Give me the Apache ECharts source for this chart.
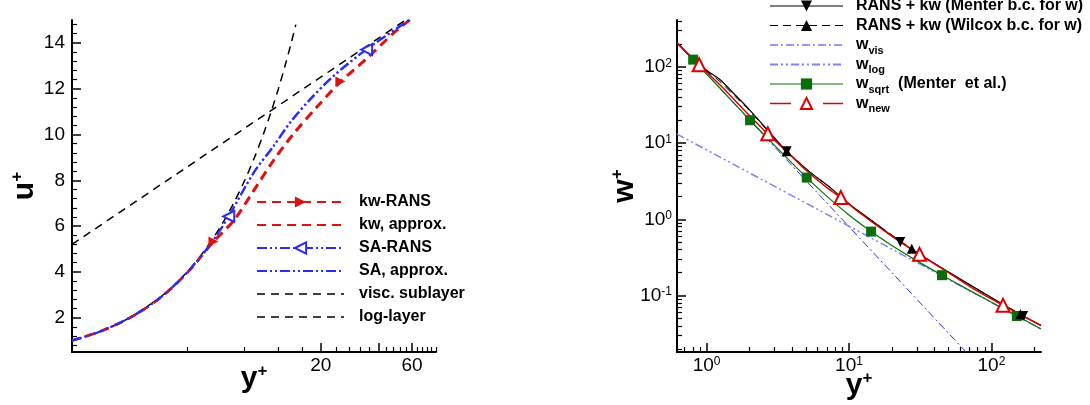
<!DOCTYPE html>
<html><head><meta charset="utf-8">
<script src="https://cdn.jsdelivr.net/npm/echarts@6/dist/echarts.min.js"></script>
<style>html,body{margin:0;padding:0;background:#fff}#c{width:1090px;height:405px}</style>
</head><body><div id="c"></div>
<script>
// ---------- LEFT PANEL DATA (u+ vs y+) ----------
const LX_MAJOR = [20, 40, 60];
const LX_MINOR = [4, 8, 12, 16, 24, 28, 32, 36, 44, 48, 52, 56, 64, 68, 72, 76, 80];
const LX_LABELS = [20, 60];
const LY_MAJOR = [2, 4, 6, 8, 10, 12, 14];
const LY_MINOR = [0.8, 1.2, 1.6, 2.4, 2.8, 3.2, 3.6, 4.4, 4.8, 5.2, 5.6, 6.4, 6.8, 7.2, 7.6,
  8.4, 8.8, 9.2, 9.6, 10.4, 10.8, 11.2, 11.6, 12.4, 12.8, 13.2, 13.6, 14.4, 14.8];

const kwRans = [[1,1.0],[1.4,1.39],[2,1.99],[2.7,2.68],[3.4,3.37],[4.2,4.15],[5.49,5.33],[7,6.25],[8.9,7.56],[11.3,8.88],[14.4,10.05],[19.1,11.22],[25.3,12.31],[34.9,13.34],[48,14.44],[58.3,15.0]];
const kwRansMarks = [5.49, 25.3];
const kwApprox = [[1,1.0],[1.4,1.39],[2,1.99],[2.7,2.68],[3.4,3.37],[4.2,4.15],[5.5,5.32],[7,6.22],[8.9,7.52],[11.3,8.84],[14.4,10.01],[19.1,11.19],[25.3,12.28],[34.9,13.32],[48,14.42],[58.3,15.0]];
const saRans = [[1,1.0],[1.4,1.39],[2,1.99],[2.7,2.68],[3.4,3.38],[4.2,4.17],[5.4,5.3],[6.6,6.42],[8.9,8.31],[11.3,9.47],[13.8,10.5],[17.6,11.52],[23.3,12.54],[34.7,13.71],[58.3,15.0]];
const saRansMarks = [6.6, 34.7];
const saApprox = [[1,1.0],[1.4,1.39],[2,1.99],[2.7,2.68],[3.4,3.38],[4.2,4.17],[5.4,5.31],[6.6,6.44],[8.9,8.34],[11.3,9.5],[13.8,10.53],[17.6,11.55],[23.3,12.57],[34.7,13.73],[58.3,15.02]];
const viscSub = [[1,1],[1.5,1.5],[2,2],[3,3],[4,4],[5,5],[6,6],[7,7],[8,8],[9,9],[10,10],[11,11],[12,12],[13,13],[14,14],[14.8,14.8]];
const logLayer = [[1,5.2],[60,15.19]];

// ---------- RIGHT PANEL DATA (w+ vs y+) ----------
const RX_MAJOR = [1, 10, 100];
const RX_MINOR = [0.7,0.8,0.9,2,3,4,5,6,7,8,9,20,30,40,50,60,70,80,90,200];
const RY_MAJOR = [0.1, 1, 10, 100];
const RY_MINOR = [0.02,0.03,0.04,0.05,0.06,0.07,0.08,0.09,0.2,0.3,0.4,0.5,0.6,0.7,0.8,0.9,
  2,3,4,5,6,7,8,9,20,30,40,50,60,70,80,90,200,300,400];

const menter = [[0.62,205],[0.8,128],[1,90],[1.24,68],[1.6,42],[1.91,30],[2.64,15.3],[3.65,7.8],[5.33,4.15],[7.36,2.62],[10.2,1.55],[14.8,0.93],[22.9,0.504],[43.7,0.237],[98.5,0.0955],[167,0.054],[223,0.0406]];
const menterMarks = [3.65, 22.9, 167];
const wilcox = [[0.62,205],[0.8,126],[1,88],[1.24,64],[1.6,40],[1.91,29],[2.64,15],[3.65,7.8],[5.33,4.15],[7.36,2.62],[10.2,1.55],[14.8,0.93],[27.6,0.41],[43.7,0.237],[98.5,0.0955],[160,0.057],[223,0.0406]];
const wilcoxMarks = [3.65, 27.6, 160];
const wVis = [[0.62,208],[66,0.0184]];
const wLog = [[0.62,13.1],[223,0.0365]];
const wSqrt = [[0.62,208],[0.805,124],[1,80.4],[1.5,36],[2.02,19.9],[3,9.3],[4,5.4],[5.05,3.52],[7,2.0],[10,1.14],[14.3,0.69],[20,0.453],[30,0.285],[45,0.185],[70,0.117],[100,0.0817],[151,0.054],[223,0.0365]];
const wSqrtMarks = [0.805, 2.02, 5.05, 14.3, 45, 151];
const wNew = [[0.62,208],[0.887,106],[1.24,58],[2,23],[2.69,13.2],[3.65,7.75],[5,4.4],[7,2.6],[8.76,1.93],[12,1.2],[20,0.6],[31.3,0.347],[50,0.2],[80,0.114],[120.7,0.0744],[223,0.0405]];
const wNewMarks = [0.887, 2.69, 8.76, 31.3, 120.7];

const leftNames = ['kw-RANS', 'kw, approx.', 'SA-RANS', 'SA, approx.', 'visc. sublayer', 'log-layer'];
const rightNames = ['RANS + kw (Menter b.c. for w)', 'RANS + kw (Wilcox b.c. for w)', 'w_vis', 'w_log', 'w_sqrt', 'w_new'];
const rightLabels = {
  'w_vis': 'w{sub|vis}', 'w_log': 'w{sub|log}', 'w_sqrt': 'w{sub|sqrt}  (Menter  et al.)', 'w_new': 'w{sub|new}'
};

function withMarks(pts, marks) {
  return pts.map(p => marks.indexOf(p[0]) >= 0 ? p : { value: p, symbol: 'none' });
}

const FONT = 'Liberation Sans, Arial, Helvetica, sans-serif';
const BLACK = '#000';

function tickAxis(kind, grid, type, min, max, vals, len, extra) {
  return Object.assign({
    type: type, gridIndex: grid, min: min, max: max,
    position: kind === 'x' ? 'bottom' : 'left',
    axisLine: { show: false },
    axisLabel: { show: false },
    splitLine: { show: false },
    axisTick: { show: true, inside: true, length: len, customValues: vals, lineStyle: { color: BLACK, width: 1.2 } },
    silent: true
  }, extra || {});
}

const supLabel = function (v) {
  const e = Math.round(Math.log10(v));
  return '{b|10}{s|' + e + '}';
};
const supRich = {
  b: { fontSize: 19, fontFamily: FONT, color: BLACK },
  s: { fontSize: 12, fontFamily: FONT, color: BLACK, verticalAlign: 'top', lineHeight: 12 }
};
const nameRich = {
  b: { fontSize: 30, fontWeight: 'bold', fontFamily: FONT, color: BLACK, lineHeight: 32 },
  s: { fontSize: 17, fontWeight: 'bold', fontFamily: FONT, color: BLACK, verticalAlign: 'top', lineHeight: 17 }
};

const chart = echarts.init(document.getElementById('c'), null, { renderer: 'canvas' });

const option = {
  animation: false,
  backgroundColor: '#fff',
  textStyle: { fontFamily: FONT },
  grid: [
    { left: 72, top: 20, width: 364, height: 332, outerBoundsMode: 'none', containLabel: false },
    { left: 677, top: 20, width: 364, height: 332, outerBoundsMode: 'none', containLabel: false }
  ],
  xAxis: [
    {
      type: 'log', gridIndex: 0, min: 1, max: 80, position: 'bottom',
      axisLine: { show: true, lineStyle: { color: BLACK, width: 2 } },
      axisTick: { show: true, inside: true, length: 9, customValues: LX_MAJOR, lineStyle: { color: BLACK, width: 1.5 } },
      axisLabel: { show: true, customValues: LX_LABELS, fontSize: 19, color: BLACK, fontFamily: FONT, margin: 4,
        formatter: v => String(Math.round(v)) },
      splitLine: { show: false },
      name: '{b|y}{s|+}', nameLocation: 'middle', nameGap: 11, nameMoveOverlap: false,
      nameTextStyle: { rich: nameRich }
    },
    tickAxis('x', 0, 'log', 1, 80, LX_MINOR, 5),
    {
      type: 'log', gridIndex: 1, min: 0.62, max: 223, position: 'bottom',
      axisLine: { show: true, lineStyle: { color: BLACK, width: 2 } },
      axisTick: { show: true, inside: true, length: 9, customValues: RX_MAJOR, lineStyle: { color: BLACK, width: 1.5 } },
      axisLabel: { show: true, customValues: RX_MAJOR, margin: 4, formatter: supLabel, rich: supRich },
      splitLine: { show: false },
      name: '{b|y}{s|+}', nameLocation: 'middle', nameGap: 18, nameMoveOverlap: false,
      nameTextStyle: { rich: nameRich }
    },
    tickAxis('x', 1, 'log', 0.62, 223, RX_MINOR, 5)
  ],
  yAxis: [
    {
      type: 'value', gridIndex: 0, min: 0.5, max: 15, position: 'left',
      axisLine: { show: true, lineStyle: { color: BLACK, width: 2 } },
      axisTick: { show: true, inside: true, length: 9, customValues: LY_MAJOR, lineStyle: { color: BLACK, width: 1.5 } },
      axisLabel: { show: true, customValues: LY_MAJOR, fontSize: 19, color: BLACK, fontFamily: FONT, margin: 7 },
      splitLine: { show: false },
      name: '{b|u}{s|+}', nameLocation: 'middle', nameGap: 31, nameMoveOverlap: false,
      nameTextStyle: { rich: nameRich }
    },
    tickAxis('y', 0, 'value', 0.5, 15, LY_MINOR, 5),
    {
      type: 'log', gridIndex: 1, min: 0.0182, max: 410, position: 'left',
      axisLine: { show: true, lineStyle: { color: BLACK, width: 2 } },
      axisTick: { show: true, inside: true, length: 9, customValues: RY_MAJOR, lineStyle: { color: BLACK, width: 1.5 } },
      axisLabel: { show: true, customValues: RY_MAJOR, margin: 5, formatter: supLabel, rich: supRich },
      splitLine: { show: false },
      name: '{b|w}{s|+}', nameLocation: 'middle', nameGap: 36, nameMoveOverlap: false,
      nameTextStyle: { rich: nameRich }
    },
    tickAxis('y', 1, 'log', 0.0182, 410, RY_MINOR, 5)
  ],
  legend: [
    {
      left: 256, top: 192, padding: 0, orient: 'vertical', itemWidth: 87, itemHeight: 14, itemGap: 3,
      selectedMode: false,
      textStyle: { fontSize: 16, fontWeight: 'bold', color: BLACK, fontFamily: FONT, lineHeight: 20, padding: [0, 0, 0, 10] },
      data: [
        { name: leftNames[0] },
        { name: leftNames[1], itemStyle: { opacity: 0 } },
        { name: leftNames[2] },
        { name: leftNames[3], itemStyle: { opacity: 0 } },
        { name: leftNames[4], itemStyle: { opacity: 0 }, lineStyle: { width: 1.5 } },
        { name: leftNames[5], itemStyle: { opacity: 0 }, lineStyle: { width: 1.5 } }
      ]
    },
    {
      left: 769, top: -5, padding: 0, orient: 'vertical', itemWidth: 73, itemHeight: 14, itemGap: -2.5,
      selectedMode: false,
      formatter: n => rightLabels[n] || n,
      textStyle: { fontSize: 16, fontWeight: 'bold', color: BLACK, fontFamily: FONT, lineHeight: 22, padding: [0, 0, 0, 8],
        rich: { sub: { fontSize: 11, fontWeight: 'bold', color: BLACK, fontFamily: FONT, lineHeight: 11, verticalAlign: 'bottom' } } },
      data: [
        { name: rightNames[0], lineStyle: { width: 1.2 } },
        { name: rightNames[1], lineStyle: { width: 1.2, type: [8, 5] } },
        { name: rightNames[2], itemStyle: { opacity: 0 }, lineStyle: { width: 1.2 } },
        { name: rightNames[3], itemStyle: { opacity: 0 }, lineStyle: { width: 2 } },
        { name: rightNames[4], lineStyle: { width: 1.2 } },
        { name: rightNames[5], lineStyle: { width: 1.5, type: [21, 32] } }
      ]
    }
  ],
  series: [
    // left panel
    { name: leftNames[4], type: 'line', xAxisIndex: 0, yAxisIndex: 0, data: viscSub, symbol: 'none', smooth: 0.3,
      lineStyle: { color: BLACK, width: 1.5, type: [8, 6] }, itemStyle: { color: BLACK } },
    { name: leftNames[5], type: 'line', xAxisIndex: 0, yAxisIndex: 0, data: logLayer, symbol: 'none',
      lineStyle: { color: BLACK, width: 1.5, type: [8, 6] }, itemStyle: { color: BLACK } },
    { name: leftNames[1], type: 'line', xAxisIndex: 0, yAxisIndex: 0, data: kwApprox, symbol: 'none', smooth: 0.3,
      lineStyle: { color: '#dd1111', width: 2.5, type: [9, 6] }, itemStyle: { color: '#dd1111' } },
    { name: leftNames[0], type: 'line', xAxisIndex: 0, yAxisIndex: 0, data: withMarks(kwRans, kwRansMarks),
      symbol: 'triangle', symbolRotate: -90, symbolSize: 10, smooth: 0.3,
      lineStyle: { color: '#dd1111', width: 2.5, type: [9, 6] }, itemStyle: { color: '#dd1111' } },
    { name: leftNames[3], type: 'line', xAxisIndex: 0, yAxisIndex: 0, data: saApprox, symbol: 'none', smooth: 0.3,
      lineStyle: { color: '#2b2bff', width: 2, type: [10, 3, 2, 3, 2, 3] }, itemStyle: { color: '#2b2bff' } },
    { name: leftNames[2], type: 'line', xAxisIndex: 0, yAxisIndex: 0, data: withMarks(saRans, saRansMarks),
      symbol: 'emptyTriangle', symbolRotate: 90, symbolSize: 11, smooth: 0.3,
      lineStyle: { color: '#2b2bff', width: 2, type: [10, 3, 2, 3, 2, 3] }, itemStyle: { color: '#2b2bff' } },
    // right panel
    { name: rightNames[2], type: 'line', xAxisIndex: 2, yAxisIndex: 2, data: wVis, symbol: 'none',
      lineStyle: { color: '#3333ff', width: 1, type: [8, 3, 2, 3] }, itemStyle: { color: '#3333ff' } },
    { name: rightNames[3], type: 'line', xAxisIndex: 2, yAxisIndex: 2, data: wLog, symbol: 'none',
      lineStyle: { color: '#8080ff', width: 1.5, type: [8, 3, 2, 3, 2, 3] }, itemStyle: { color: '#8080ff' } },
    { name: rightNames[4], type: 'line', xAxisIndex: 2, yAxisIndex: 2, data: withMarks(wSqrt, wSqrtMarks),
      symbol: 'rect', symbolSize: 10, smooth: 0.3,
      lineStyle: { color: '#0b6e0b', width: 1.2 }, itemStyle: { color: '#0b6e0b' } },
    { name: rightNames[1], type: 'line', xAxisIndex: 2, yAxisIndex: 2, data: withMarks(wilcox, wilcoxMarks),
      symbol: 'triangle', symbolSize: 10, smooth: 0.3,
      lineStyle: { color: BLACK, width: 1, type: [8, 5] }, itemStyle: { color: BLACK } },
    { name: rightNames[0], type: 'line', xAxisIndex: 2, yAxisIndex: 2, data: withMarks(menter, menterMarks),
      symbol: 'triangle', symbolRotate: 180, symbolSize: 10, smooth: 0.3,
      lineStyle: { color: BLACK, width: 1.2 }, itemStyle: { color: BLACK } },
    { name: rightNames[5], type: 'line', xAxisIndex: 2, yAxisIndex: 2, data: withMarks(wNew, wNewMarks),
      symbol: 'emptyTriangle', symbolSize: 13, smooth: 0.3,
      lineStyle: { color: '#dd0000', width: 1.5 }, itemStyle: { color: '#dd0000' } }
  ]
};
chart.setOption(option);
</script></body></html>
